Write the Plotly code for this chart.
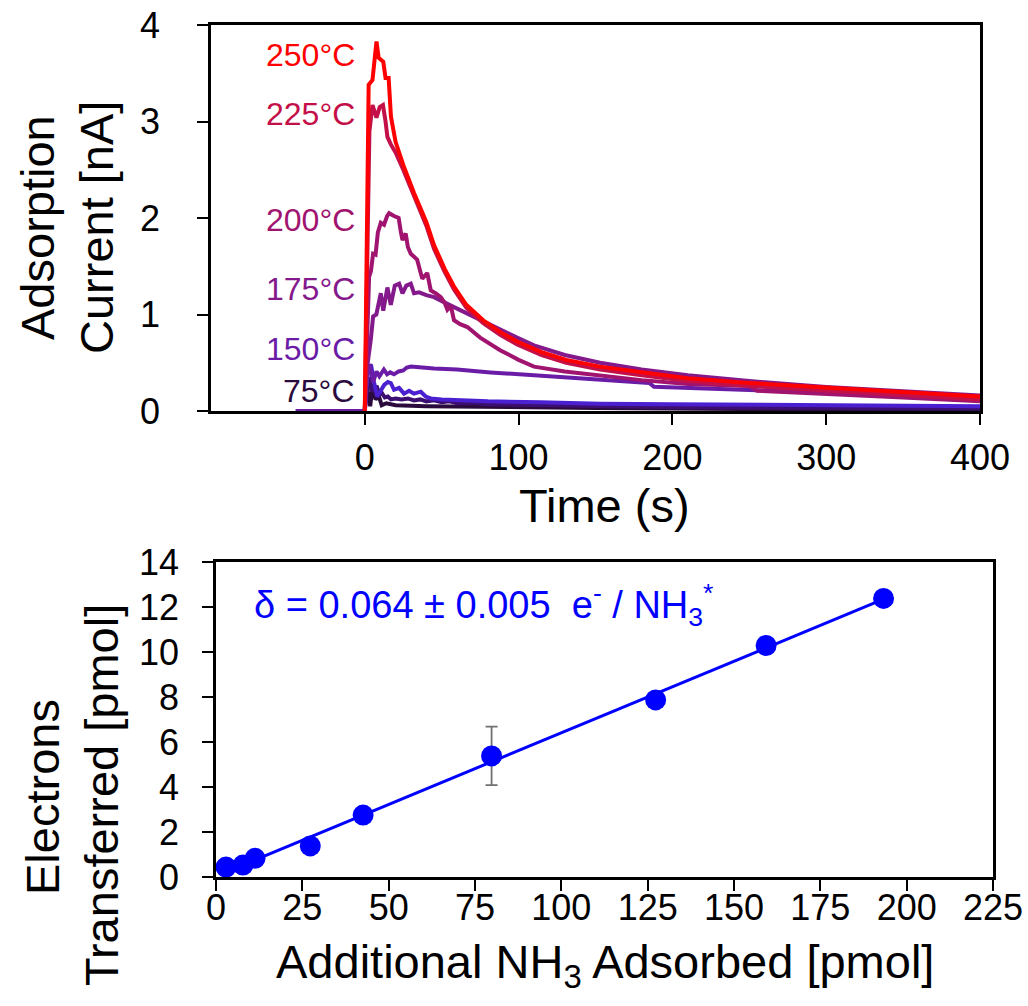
import numpy as np
import plotly.graph_objects as go

FONT = "Arial, Liberation Sans, sans-serif"

# ---------------- Top panel data: adsorption current vs time ----------------
temps = ["75°C", "100°C", "125°C", "150°C", "175°C", "200°C", "225°C", "250°C"]
colors = ["#2B0B3E", "#3D0E72", "#4A20D0", "#6A1CA6", "#84198C", "#A01470", "#C41048", "#FF0000"]
show_label = [True, False, False, True, True, True, True, True]
label_y = [0.21, None, None, 0.64, 1.26, 1.98, 3.08, 3.69]

t75 = [0, 0.8, 2.0, 3.5, 5.0, 7.0, 9.0, 11.0, 14, 20, 40, 80, 150, 250, 400]
i75 = [0, 0.46, 0.2, 0.05, 0.25, 0.12, 0.16, 0.06, 0.08, 0.06, 0.05, 0.04, 0.03, 0.02, 0.015]

t100 = [0, 1.0, 3.0, 5.0, 7.7, 9.5, 11, 13, 15, 17, 20, 24, 28, 32, 36, 40, 45, 50, 55, 60, 70, 80, 100, 150, 200, 300, 400]
i100 = [0, 0.15, 0.35, 0.2, 0.26, 0.17, 0.19, 0.14, 0.15, 0.12, 0.13, 0.12, 0.13, 0.11, 0.12, 0.10, 0.11, 0.09, 0.10, 0.08, 0.085, 0.07, 0.065, 0.05, 0.04, 0.03, 0.025]

t125 = [0, 1.0, 2.5, 4.0, 6.0, 8.0, 10, 12.6, 15, 16.9, 19, 22.3, 25.5, 28.8, 32, 36.4, 39.6, 42.9, 50, 60, 80, 114, 153, 200, 300, 400]
i125 = [0, 0.25, 0.45, 0.48, 0.30, 0.15, 0.20, 0.27, 0.30, 0.29, 0.22, 0.24, 0.18, 0.21, 0.18, 0.20, 0.15, 0.13, 0.12, 0.11, 0.10, 0.09, 0.075, 0.07, 0.06, 0.05]

t150 = [-45, 0, 1.0, 1.7, 3.5, 5.4, 7.6, 9.5, 12.4, 14.5, 16.5, 19, 22, 25, 27.3, 30, 45, 60, 81.8, 100, 114, 130, 153, 185, 188, 220, 250, 300, 350, 400]
i150 = [0, 0, 0.3, 0.44, 0.46, 0.30, 0.41, 0.36, 0.43, 0.38, 0.40, 0.38, 0.41, 0.42, 0.45, 0.46, 0.44, 0.43, 0.40, 0.38, 0.37, 0.35, 0.32, 0.29, 0.25, 0.23, 0.22, 0.19, 0.17, 0.14]

t175 = [0, 1.5, 3.9, 5.4, 7.5, 10.4, 12, 14.7, 16.9, 19.5, 22.3, 24.5, 27, 29.9, 32, 35.3, 40, 45, 55, 66.7, 77, 88, 99, 110, 130, 153, 180, 210, 250, 300, 350, 400]
i175 = [0, 0.45, 0.74, 0.98, 1.0, 1.22, 1.04, 1.28, 1.1, 1.3, 1.32, 1.22, 1.3, 1.32, 1.22, 1.23, 1.2, 1.18, 1.10, 1.01, 0.92, 0.84, 0.76, 0.68, 0.58, 0.50, 0.43, 0.37, 0.31, 0.25, 0.20, 0.16]

t200 = [0, 1.5, 2.8, 4.0, 5.4, 7.0, 8.5, 10.4, 12.5, 14.5, 15.8, 19, 22, 23.5, 24.5, 26.6, 28, 29.9, 32, 34, 36, 37.4, 40.6, 42.9, 46, 49.4, 52, 53.7, 55.9, 58, 62, 66.7, 75, 88, 100, 110, 130, 153, 180, 210, 250, 255, 300, 350, 400]
i200 = [0, 0.9, 1.39, 1.45, 1.63, 1.62, 1.85, 1.95, 1.93, 2.02, 2.05, 2.02, 2.0, 1.85, 1.77, 1.84, 1.7, 1.63, 1.6, 1.57, 1.45, 1.37, 1.43, 1.25, 1.22, 1.18, 1.12, 1.05, 1.09, 0.94, 0.90, 0.87, 0.76, 0.63, 0.53, 0.46, 0.41, 0.37, 0.32, 0.28, 0.26, 0.21, 0.18, 0.14, 0.10]

t225 = [0, 1.0, 3.0, 5.0, 7.6, 9.7, 11.8, 13.5, 14.7, 17, 20, 25, 32, 40, 45, 52, 58, 66, 77, 88, 99, 115, 131, 153, 180, 210, 250, 300, 350, 400]
i225 = [0, 1.2, 2.9, 3.17, 3.04, 3.15, 3.17, 3.0, 2.84, 2.76, 2.68, 2.50, 2.22, 1.92, 1.68, 1.44, 1.26, 1.07, 0.91, 0.79, 0.69, 0.58, 0.50, 0.43, 0.37, 0.31, 0.26, 0.21, 0.16, 0.12]

t250 = [0, 1.0, 2.5, 5.0, 6.3, 7.6, 9.0, 10.5, 12.0, 13.5, 15.5, 17.0, 20.0, 25, 32, 40, 45, 52, 58, 66, 77, 88, 99, 115, 131, 153, 180, 210, 250, 300, 350, 400]
i250 = [0, 1.5, 3.38, 3.43, 3.65, 3.83, 3.66, 3.64, 3.62, 3.45, 3.45, 3.05, 2.79, 2.55, 2.26, 1.96, 1.72, 1.47, 1.29, 1.10, 0.94, 0.82, 0.72, 0.61, 0.53, 0.46, 0.40, 0.34, 0.29, 0.24, 0.19, 0.15]

times = [t75, t100, t125, t150, t175, t200, t225, t250]
currents = [i75, i100, i125, i150, i175, i200, i225, i250]

time_ticks = [0, 100, 200, 300, 400]
current_ticks = [0, 1, 2, 3, 4]

# ---------------- Bottom panel data: electrons vs NH3 ----------------
nh3_adsorbed = [2.9, 7.8, 11.3, 27.3, 42.6, 79.8, 127.3, 159.3, 193.3]
electrons = [0.44, 0.53, 0.83, 1.38, 2.75, 5.38, 7.87, 10.29, 12.38]
electrons_err = [None, None, None, None, None, 1.3, None, None, None]

nh3_ticks = [0, 25, 50, 75, 100, 125, 150, 175, 200, 225]
electron_ticks = [0, 2, 4, 6, 8, 10, 12, 14]

fig = go.Figure()

for name, tt, ii, col in zip(temps, times, currents, colors):
    fig.add_trace(go.Scatter(x=tt, y=ii, mode="lines", name=name,
                             line=dict(color=col, width=4),
                             xaxis="x", yaxis="y", showlegend=False))

for name, col, show, ly in zip(temps, colors, show_label, label_y):
    if show:
        fig.add_annotation(x=-5, y=ly, xref="x", yref="y", text=name,
                           showarrow=False, xanchor="right", yanchor="middle",
                           font=dict(family=FONT, size=32, color=col))

# linear fit
slope, intercept = np.polyfit(nh3_adsorbed, electrons, 1)
fit_x = [min(nh3_adsorbed), max(nh3_adsorbed)]
fit_y = [slope * v + intercept for v in fit_x]
fig.add_trace(go.Scatter(x=fit_x, y=fit_y, mode="lines", line=dict(color="#0000FF", width=3),
                         xaxis="x2", yaxis="y2", showlegend=False))
fig.add_trace(go.Scatter(x=nh3_adsorbed, y=electrons, mode="markers",
                         marker=dict(color="#0000FF", size=21),
                         error_y=dict(type="data", array=electrons_err, color="#707070",
                                      thickness=1.8, width=6),
                         xaxis="x2", yaxis="y2", showlegend=False))

fig.add_annotation(x=10.5, y=12.1, xref="x2", yref="y2",
                   text="δ = 0.064 ± 0.005  e<sup>-</sup> / NH<sub>3</sub><sup>*</sup>",
                   showarrow=False, xanchor="left", yanchor="middle",
                   font=dict(family=FONT, size=38, color="#0000FF"))

# axis titles
TF = dict(family=FONT, size=47, color="black")
def title(x, y, text, angle=0):
    fig.add_annotation(x=x / 1028, y=1 - y / 1006, xref="paper", yref="paper", text=text,
                       textangle=angle, showarrow=False, xanchor="center", yanchor="middle",
                       font=TF)

title(37, 228, "Adsorption", -90)
title(96, 228, "Current [nA]", -90)
title(42, 797, "Electrons", -90)
title(101, 795, "Transferred [pmol]", -90)
title(604, 505, "Time (s)")
title(605, 965, "Additional NH<sub>3</sub> Adsorbed [pmol]")

tickfont = dict(family=FONT, size=36, color="black")
common = dict(showgrid=False, zeroline=False, showline=True, linecolor="black", linewidth=2.5,
              mirror=True, ticks="outside", ticklen=11, tickwidth=1.8, tickcolor="black",
              tickfont=tickfont, automargin=False)
inner = dict(showgrid=False, zeroline=False, showline=False, ticks="inside", ticklen=11,
             tickwidth=1.8, tickcolor="black", showticklabels=False, automargin=False)

top_x = [211 / 1028, 980 / 1028]
top_y = [1 - 411 / 1006, 1 - 25 / 1006]
bot_x = [216 / 1028, 993 / 1028]
bot_y = [1 - 877 / 1006, 1 - 562 / 1006]

fig.update_layout(
    width=1028, height=1006,
    margin=dict(l=0, r=0, t=0, b=0, pad=0),
    paper_bgcolor="white", plot_bgcolor="white",
    showlegend=False,
    xaxis=dict(domain=top_x, anchor="y", range=[-100, 400], tickvals=time_ticks,
               ticklabelstandoff=2, **common),
    yaxis=dict(domain=top_y, anchor="x", range=[0, 4], tickvals=current_ticks,
               ticklabelstandoff=30, **common),
    xaxis3=dict(overlaying="x", anchor="y", range=[-100, 400], tickvals=time_ticks, **inner),
    yaxis3=dict(overlaying="y", anchor="x", range=[0, 4], tickvals=current_ticks, **inner),
    xaxis2=dict(domain=bot_x, anchor="y2", range=[0, 225], tickvals=nh3_ticks,
                ticklabelstandoff=-14, **common),
    yaxis2=dict(domain=bot_y, anchor="x2", range=[0, 14], tickvals=electron_ticks,
                ticklabelstandoff=16, **common),
    xaxis4=dict(overlaying="x2", anchor="y2", range=[0, 225], tickvals=nh3_ticks, **inner),
    yaxis4=dict(overlaying="y2", anchor="x2", range=[0, 14], tickvals=electron_ticks, **inner),
)

fig.write_html("out.html", config={"displayModeBar": False},
               post_script="document.body.style.margin='0px';")
